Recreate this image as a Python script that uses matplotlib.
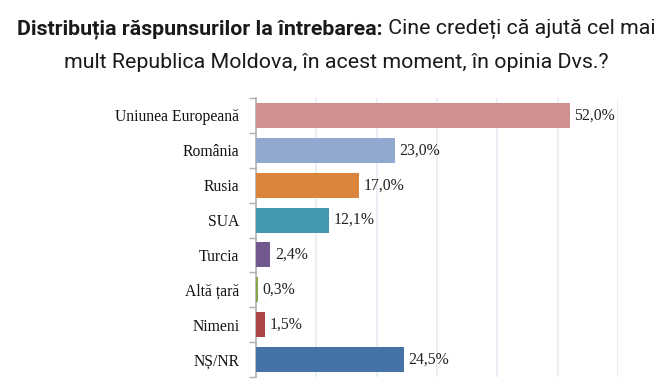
import matplotlib.pyplot as plt

categories = ['Uniunea Europeană', 'România', 'Rusia', 'SUA', 'Turcia',
              'Altă țară', 'Nimeni', 'NȘ/NR']
values = [52.0, 23.0, 17.0, 12.1, 2.4, 0.3, 1.5, 24.5]
labels = ['52,0%', '23,0%', '17,0%', '12,1%', '2,4%', '0,3%', '1,5%', '24,5%']
colors = ['#CF9090', '#91A9D0', '#DB843D', '#4198AF', '#71588F',
          '#89A54E', '#AA4643', '#4572A7']

title_font = 'Roboto'
W, H = 672, 387

fig = plt.figure(figsize=(W / 100, H / 100), dpi=100)
ax = fig.add_axes([256 / W, 10 / H, (618 - 256) / W, 279 / H])

y = list(range(len(categories)))
ax.barh(y, values, height=0.72, color=colors, zorder=3)
for yi, v, lab in zip(y, values, labels):
    ax.text(v + 0.8, yi, lab, va='center', ha='left', fontsize=11.3,
            family='Liberation Serif', color='#222222')

ax.set_ylim(len(categories) - 0.5, -0.5)
ax.set_xlim(0, 60)
ax.set_xticks([10, 20, 30, 40, 50, 60])
ax.set_xticklabels([])
ax.tick_params(axis='x', length=0)
ax.grid(axis='x', color='#E6ECF5', linewidth=1.2, zorder=0)

ax.set_yticks(y)
ax.set_yticklabels(categories, family='Liberation Serif', fontsize=11.3, color='#111111')
ax.set_yticks([i - 0.5 for i in range(len(categories) + 1)], minor=True)
ax.tick_params(axis='y', which='major', length=0, pad=12)
ax.tick_params(axis='y', which='minor', length=5, color='#B0B0B0', width=1)

for s in ['top', 'right', 'bottom']:
    ax.spines[s].set_visible(False)
ax.spines['left'].set_color('#B0B0B0')
ax.spines['left'].set_linewidth(1.2)

# title line 1: bold part + regular part side by side, fitted to ~640 px
r = fig.canvas.get_renderer()
fs = 17
t1 = fig.text(0, 0.925, 'Distribuția răspunsurilor la întrebarea:', ha='left', va='center',
              fontsize=fs, fontweight='bold', family=title_font, color='#1a1a1a')
t2 = fig.text(0, 0.925, ' Cine credeți că ajută cel mai', ha='left', va='center',
              fontsize=fs, family=title_font, color='#1a1a1a')
w = t1.get_window_extent(r).width + t2.get_window_extent(r).width
fs = fs * 640 / w
t1.set_fontsize(fs)
t2.set_fontsize(fs)
w1 = t1.get_window_extent(r).width
w2 = t2.get_window_extent(r).width
x0 = W / 2 - (w1 + w2) / 2
t1.set_x(x0 / W)
t2.set_x((x0 + w1) / W)
fig.text(0.5, 0.838, 'mult Republica Moldova, în acest moment, în opinia Dvs.?', ha='center',
         va='center', fontsize=fs, family=title_font, color='#1a1a1a')

fig.savefig('out.png', dpi=100)
